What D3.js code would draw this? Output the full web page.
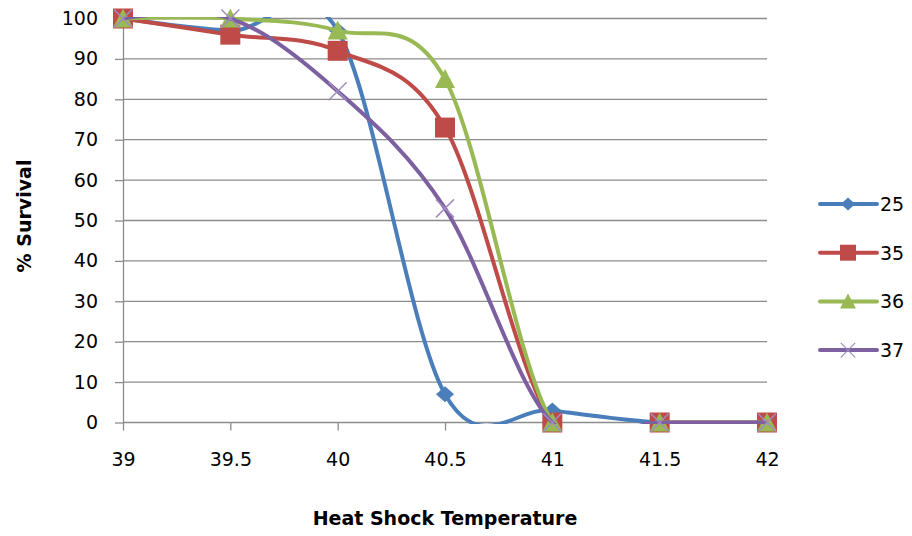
<!DOCTYPE html>
<html>
<head>
<meta charset="utf-8">
<script src="https://cdn.jsdelivr.net/npm/d3@7"></script>
<style>
	body { margin: 0; background: #ffffff; }
	text { font-family: "DejaVu Sans", sans-serif; fill: #000; }
</style>
</head>
<body>
<svg id="svg1" width="912" height="536"></svg>
<script>
// data
temperatures = [39, 39.5, 40, 40.5, 41, 41.5, 42];
series_names = ["25", "35", "36", "37"];
survival_25 = [100, 97, 97, 7, 3, 0, 0];
survival_35 = [100, 96, 92, 73, 0, 0, 0];
survival_36 = [100, 100, 97, 85, 0, 0, 0];
survival_37 = [100, 100, 82, 53, 0, 0, 0];
y_ticks = [0, 10, 20, 30, 40, 50, 60, 70, 80, 90, 100];
x_ticks = [39, 39.5, 40, 40.5, 41, 41.5, 42];

colors = ["#4A7EBB", "#BE4B48", "#98B954", "#7D60A0"];
markers = ["diamond", "square", "triangle", "cross"];

settings = {
	left: 123,
	right: 767,
	top: 18.5,
	bottom: 422.5
}

function marker_path(kind) {
	if (kind == "diamond") return "M-9,0L0,-8L9,0L0,8Z";
	if (kind == "square") return "M-10,-10H10V10H-10Z";
	if (kind == "triangle") return "M0,-10L10,9H-10Z";
	return "M-9,-9L9,9M-9,9L9,-9";
}

function draw_marker(g, kind, color) {
	if (kind == "cross") {
		g.append("path").attr("d", marker_path(kind))
			.attr("fill", "none").attr("stroke", "#a08cc0").attr("stroke-width", 1.5);
	} else {
		g.append("path").attr("d", marker_path(kind)).attr("fill", color);
	}
}

function show_chart() {
	var x = d3.scaleLinear().domain([39, 42]).range([settings.left, settings.right]);
	var y = d3.scaleLinear().domain([0, 100]).range([settings.bottom, settings.top]);

	svg = d3.select("#svg1");

	// excel clips the smoothed lines to the plot area
	svg.append("defs").append("clipPath").attr("id", "plotclip")
		.append("rect")
		.attr("x", settings.left - 2).attr("y", settings.top - 1.5)
		.attr("width", settings.right - settings.left + 6)
		.attr("height", settings.bottom - settings.top + 3);

	// gridlines
	svg.append("g")
		.selectAll("line")
		.data(y_ticks.filter(d => d > 0))
		.enter().append("line")
		.attr("x1", settings.left).attr("x2", settings.right)
		.attr("y1", d => y(d)).attr("y2", d => y(d))
		.attr("stroke", "#8c8c8c").attr("stroke-width", 1.3);

	// y axis
	var yAxis = svg.append("g")
		.attr("transform", "translate(" + settings.left + ",0)")
		.call(d3.axisLeft(y).tickValues(y_ticks).tickSize(8).tickPadding(17).tickSizeOuter(0));

	// x axis
	var xAxis = svg.append("g")
		.attr("transform", "translate(0," + settings.bottom + ")")
		.call(d3.axisBottom(x).tickValues(x_ticks).tickSize(8).tickPadding(22).tickSizeOuter(0).tickFormat(d3.format("")));

	[yAxis, xAxis].forEach(function(a) {
		a.select(".domain").attr("stroke", "#8c8c8c").attr("stroke-width", 1.3);
		a.selectAll(".tick line").attr("stroke", "#8c8c8c").attr("stroke-width", 1.3);
		a.selectAll("text").style("font-size", "19px").attr("fill", "#000");
	});
	xAxis.select(".domain").attr("d", "M" + settings.left + ",0H" + settings.right);

	// lines
	all_values = [survival_25, survival_35, survival_36, survival_37];
	var line = d3.line()
		.x(d => x(d[0]))
		.y(d => y(d[1]))
		.curve(d3.curveCatmullRom.alpha(0));

	all_values.forEach(function(vals, i) {
		pts = temperatures.map((t, j) => [t, vals[j]]);
		var g = svg.append("g");
		g.append("path")
			.datum(pts)
			.attr("d", line)
			.attr("clip-path", "url(#plotclip)")
			.attr("fill", "none")
			.attr("stroke", colors[i])
			.attr("stroke-width", 4)
			.attr("stroke-linejoin", "round");
		g.selectAll("g")
			.data(pts)
			.enter().append("g")
			.attr("transform", d => "translate(" + x(d[0]) + "," + y(d[1]) + ")")
			.each(function() { draw_marker(d3.select(this), markers[i], colors[i]); });
	});

	// legend
	var legend = svg.append("g");
	series_names.forEach(function(name, i) {
		var ly = 204 + i * 48.7;
		var lg = legend.append("g").attr("transform", "translate(820," + ly + ")");
		lg.append("line").attr("x1", 0).attr("x2", 57).attr("y1", 0).attr("y2", 0)
			.attr("stroke", colors[i]).attr("stroke-width", 4).attr("stroke-linecap", "round");
		var mg = lg.append("g").attr("transform", "translate(28,0) scale(0.8)");
		draw_marker(mg, markers[i], colors[i]);
		lg.append("text").attr("x", 60).attr("y", 7).style("font-size", "19px").text(name);
	});

	// axis titles
	svg.append("text")
		.attr("x", 445).attr("y", 525)
		.attr("text-anchor", "middle")
		.style("font-size", "19px").style("font-weight", "bold")
		.text("Heat Shock Temperature");

	svg.append("text")
		.attr("transform", "translate(31,216) rotate(-90)")
		.attr("text-anchor", "middle")
		.style("font-size", "19px").style("font-weight", "bold")
		.text("% Survival");
}

show_chart();
</script>
</body>
</html>
